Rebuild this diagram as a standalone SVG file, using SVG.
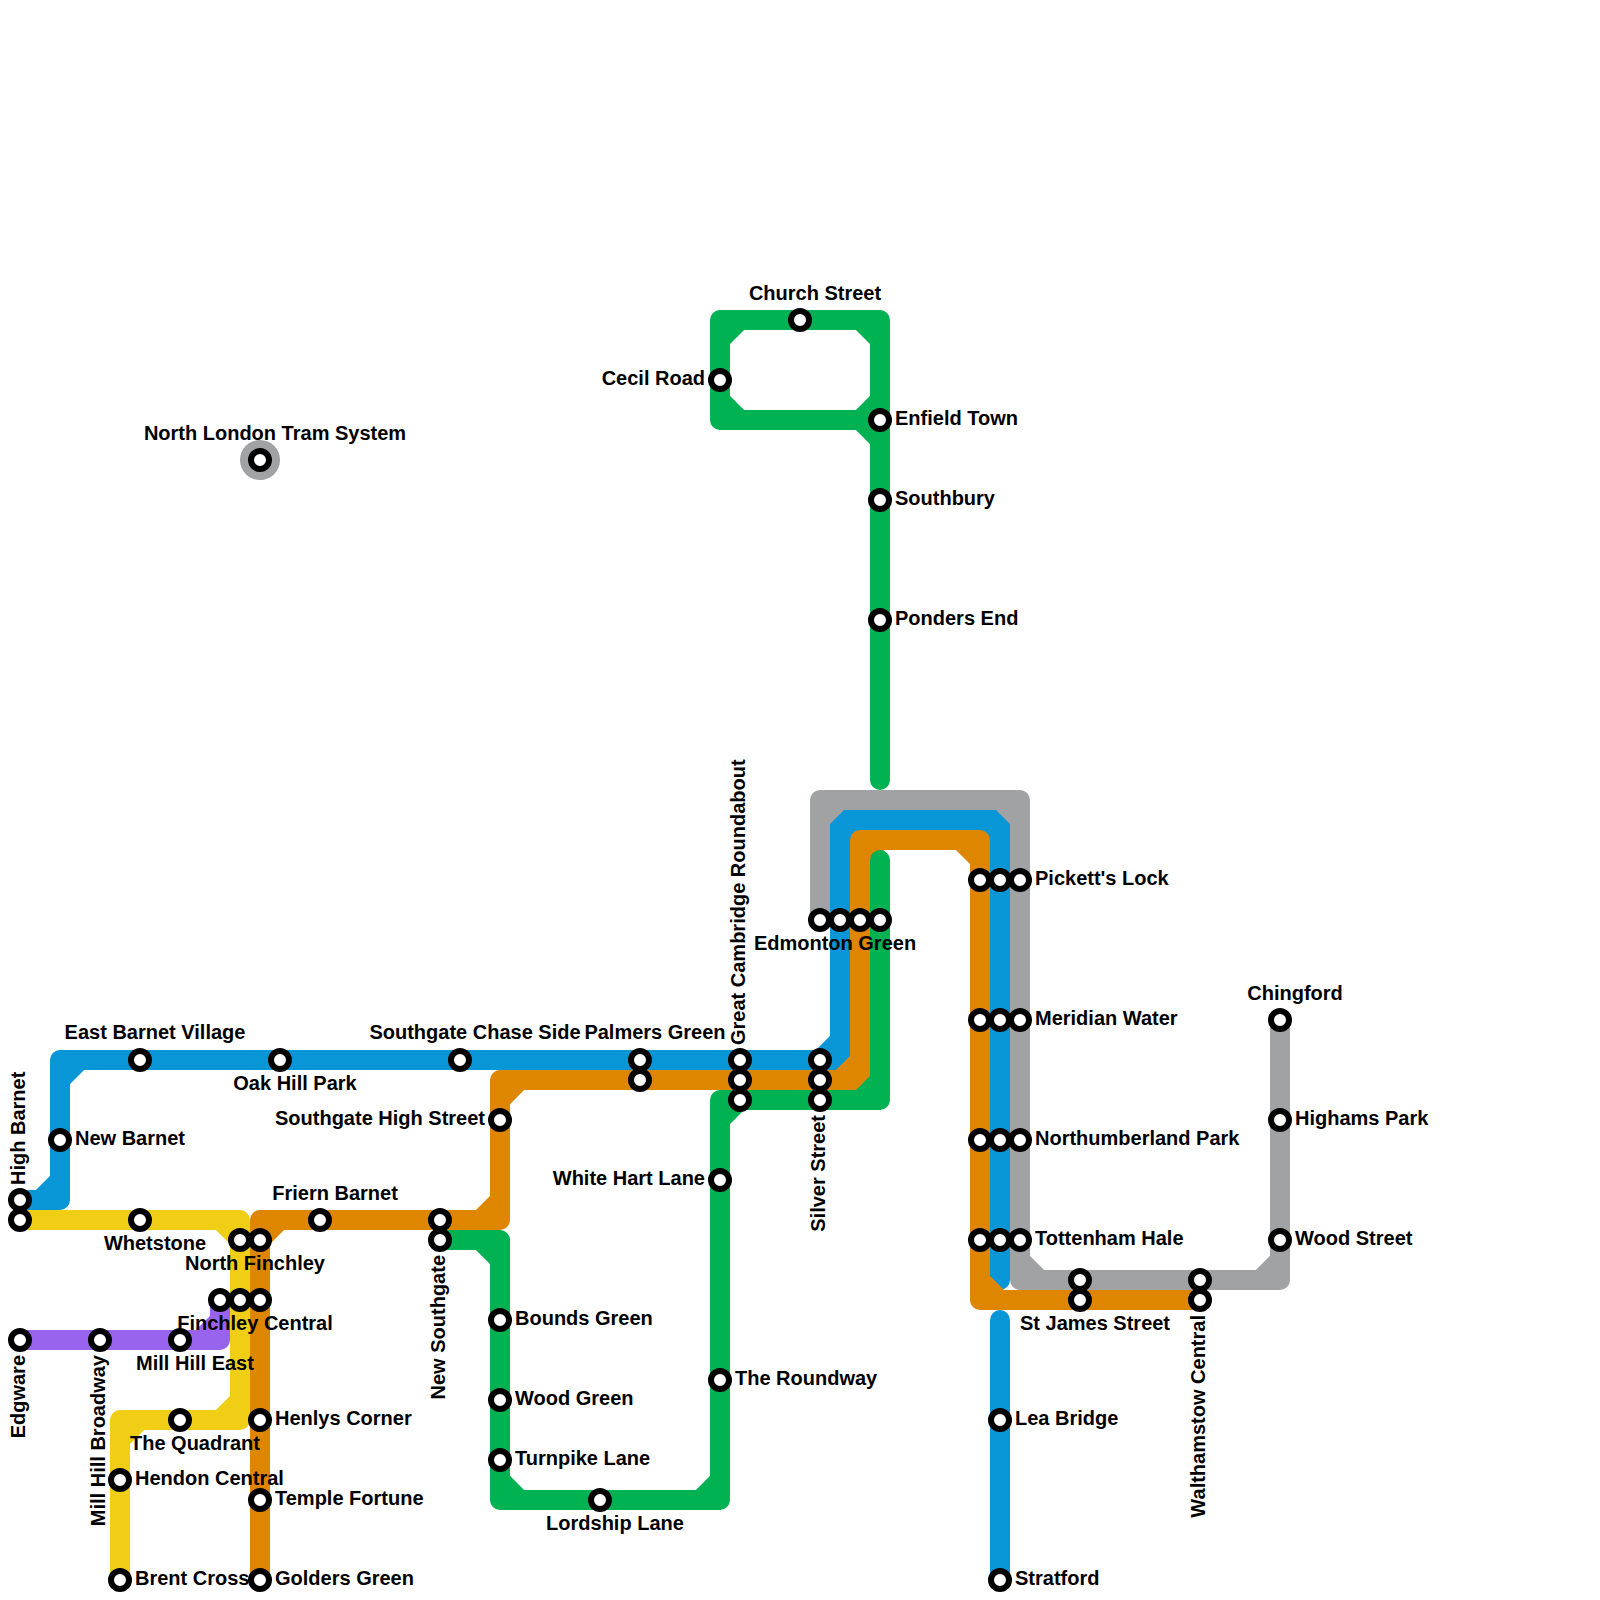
<svg xmlns="http://www.w3.org/2000/svg" width="1600" height="1600" viewBox="0 0 1600 1600">
<style>
.line{fill:none;stroke-width:20;stroke-linecap:round;stroke-linejoin:round}
.blue{stroke:#0896d7}.grey{stroke:#a1a2a3}.orange{stroke:#df8600}.green{stroke:#00b251}.yellow{stroke:#f0ce15}.purple{stroke:#9964ed}
.st{fill:#fff;stroke:#000;stroke-width:6}
text{font-family:"Liberation Sans",Arial,sans-serif;font-weight:700;font-size:20px;fill:#000}
.e{text-anchor:end}.m{text-anchor:middle}
</style>
<rect width="1600" height="1600" fill="#fff"/>
<g id="connectors">
<path id="line-blue-a" class="line blue" d="M20,1200H60V1060H840V820H1000V1280M40,1200L60,1180M60,1080L80,1060M820,1060L840,1040M840,840L860,820M980,820L1000,840"/>
<path id="line-blue-b" class="line blue" d="M1000,1320V1580"/>
<path id="line-grey" class="line grey" d="M820,920V800H1020V1280H1280V1020M820,820L840,800M1000,800L1020,820M1020,1260L1040,1280M1260,1280L1280,1260"/>
<path id="line-purple" class="line purple" d="M20,1340H220V1300M200,1340L220,1320"/>
<path id="line-yellow" class="line yellow" d="M20,1220H240V1420H120V1580M220,1220L240,1240M220,1420L240,1400M120,1440L140,1420"/>
<path id="line-orange" class="line orange" d="M260,1580V1220H500V1080H860V840H980V1300H1200M260,1240L280,1220M480,1220L500,1200M500,1100L520,1080M840,1080L860,1060M860,860L880,840M960,840L980,860M980,1280L1000,1300"/>
<path id="line-green-a" class="line green" d="M880,780V320H720V420H880M720,340L740,320M860,320L880,340M720,400L740,420M860,420L880,400M860,420L880,440"/>
<path id="line-green-b" class="line green" d="M440,1240H500V1500H720V1100H880V860M480,1240L500,1260M500,1480L520,1500M700,1500L720,1480M720,1120L740,1100M860,1100L880,1080"/>
</g>
<g id="nodes">
<g id="tram"><circle cx="260" cy="460" r="20" fill="#a1a2a3"/><circle class="st" cx="260" cy="460" r="9"/><text class="m" x="275" y="440">North London Tram System</text></g>
<g id="church-street"><circle class="st" cx="800" cy="320" r="9"/><text class="m" x="815" y="300">Church Street</text></g>
<g id="cecil-road"><circle class="st" cx="720" cy="380" r="9"/><text class="e" x="705" y="385">Cecil Road</text></g>
<g id="enfield-town"><circle class="st" cx="880" cy="420" r="9"/><text x="895" y="425">Enfield Town</text></g>
<g id="southbury"><circle class="st" cx="880" cy="500" r="9"/><text x="895" y="505">Southbury</text></g>
<g id="ponders-end"><circle class="st" cx="880" cy="620" r="9"/><text x="895" y="625">Ponders End</text></g>
<g id="edmonton-green"><circle class="st" cx="820" cy="920" r="9"/><circle class="st" cx="840" cy="920" r="9"/><circle class="st" cx="860" cy="920" r="9"/><circle class="st" cx="880" cy="920" r="9"/><text class="m" x="835" y="950">Edmonton Green</text></g>
<g id="picketts-lock"><circle class="st" cx="980" cy="880" r="9"/><circle class="st" cx="1000" cy="880" r="9"/><circle class="st" cx="1020" cy="880" r="9"/><text x="1035" y="885">Pickett's Lock</text></g>
<g id="meridian-water"><circle class="st" cx="980" cy="1020" r="9"/><circle class="st" cx="1000" cy="1020" r="9"/><circle class="st" cx="1020" cy="1020" r="9"/><text x="1035" y="1025">Meridian Water</text></g>
<g id="northumberland-park"><circle class="st" cx="980" cy="1140" r="9"/><circle class="st" cx="1000" cy="1140" r="9"/><circle class="st" cx="1020" cy="1140" r="9"/><text x="1035" y="1145">Northumberland Park</text></g>
<g id="tottenham-hale"><circle class="st" cx="980" cy="1240" r="9"/><circle class="st" cx="1000" cy="1240" r="9"/><circle class="st" cx="1020" cy="1240" r="9"/><text x="1035" y="1245">Tottenham Hale</text></g>
<g id="st-james-street"><circle class="st" cx="1080" cy="1280" r="9"/><circle class="st" cx="1080" cy="1300" r="9"/><text class="m" x="1095" y="1330">St James Street</text></g>
<g id="walthamstow-central"><circle class="st" cx="1200" cy="1280" r="9"/><circle class="st" cx="1200" cy="1300" r="9"/><text class="e" transform="rotate(-90 1205 1315)" x="1205" y="1315">Walthamstow Central</text></g>
<g id="chingford"><circle class="st" cx="1280" cy="1020" r="9"/><text class="m" x="1295" y="1000">Chingford</text></g>
<g id="highams-park"><circle class="st" cx="1280" cy="1120" r="9"/><text x="1295" y="1125">Highams Park</text></g>
<g id="wood-street"><circle class="st" cx="1280" cy="1240" r="9"/><text x="1295" y="1245">Wood Street</text></g>
<g id="lea-bridge"><circle class="st" cx="1000" cy="1420" r="9"/><text x="1015" y="1425">Lea Bridge</text></g>
<g id="stratford"><circle class="st" cx="1000" cy="1580" r="9"/><text x="1015" y="1585">Stratford</text></g>
<g id="high-barnet"><circle class="st" cx="20" cy="1200" r="9"/><circle class="st" cx="20" cy="1220" r="9"/><text transform="rotate(-90 25 1185)" x="25" y="1185">High Barnet</text></g>
<g id="new-barnet"><circle class="st" cx="60" cy="1140" r="9"/><text x="75" y="1145">New Barnet</text></g>
<g id="east-barnet-village"><circle class="st" cx="140" cy="1060" r="9"/><text class="m" x="155" y="1039">East Barnet Village</text></g>
<g id="oak-hill-park"><circle class="st" cx="280" cy="1060" r="9"/><text class="m" x="295" y="1090">Oak Hill Park</text></g>
<g id="southgate-chase-side"><circle class="st" cx="460" cy="1060" r="9"/><text class="m" x="475" y="1039">Southgate Chase Side</text></g>
<g id="palmers-green"><circle class="st" cx="640" cy="1060" r="9"/><circle class="st" cx="640" cy="1080" r="9"/><text class="m" x="655" y="1039">Palmers Green</text></g>
<g id="great-cambridge-roundabout"><circle class="st" cx="740" cy="1060" r="9"/><circle class="st" cx="740" cy="1080" r="9"/><circle class="st" cx="740" cy="1100" r="9"/><text transform="rotate(-90 745 1045)" x="745" y="1045">Great Cambridge Roundabout</text></g>
<g id="silver-street"><circle class="st" cx="820" cy="1060" r="9"/><circle class="st" cx="820" cy="1080" r="9"/><circle class="st" cx="820" cy="1100" r="9"/><text class="e" transform="rotate(-90 825 1115)" x="825" y="1115">Silver Street</text></g>
<g id="southgate-high-street"><circle class="st" cx="500" cy="1120" r="9"/><text class="e" x="485" y="1125">Southgate High Street</text></g>
<g id="white-hart-lane"><circle class="st" cx="720" cy="1180" r="9"/><text class="e" x="705" y="1185">White Hart Lane</text></g>
<g id="the-roundway"><circle class="st" cx="720" cy="1380" r="9"/><text x="735" y="1385">The Roundway</text></g>
<g id="friern-barnet"><circle class="st" cx="320" cy="1220" r="9"/><text class="m" x="335" y="1200">Friern Barnet</text></g>
<g id="new-southgate"><circle class="st" cx="440" cy="1220" r="9"/><circle class="st" cx="440" cy="1240" r="9"/><text class="e" transform="rotate(-90 445 1255)" x="445" y="1255">New Southgate</text></g>
<g id="bounds-green"><circle class="st" cx="500" cy="1320" r="9"/><text x="515" y="1325">Bounds Green</text></g>
<g id="wood-green"><circle class="st" cx="500" cy="1400" r="9"/><text x="515" y="1405">Wood Green</text></g>
<g id="turnpike-lane"><circle class="st" cx="500" cy="1460" r="9"/><text x="515" y="1465">Turnpike Lane</text></g>
<g id="lordship-lane"><circle class="st" cx="600" cy="1500" r="9"/><text class="m" x="615" y="1530">Lordship Lane</text></g>
<g id="whetstone"><circle class="st" cx="140" cy="1220" r="9"/><text class="m" x="155" y="1250">Whetstone</text></g>
<g id="north-finchley"><circle class="st" cx="240" cy="1240" r="9"/><circle class="st" cx="260" cy="1240" r="9"/><text class="m" x="255" y="1270">North Finchley</text></g>
<g id="finchley-central"><circle class="st" cx="220" cy="1300" r="9"/><circle class="st" cx="240" cy="1300" r="9"/><circle class="st" cx="260" cy="1300" r="9"/><text class="m" x="255" y="1330">Finchley Central</text></g>
<g id="edgware"><circle class="st" cx="20" cy="1340" r="9"/><text class="e" transform="rotate(-90 25 1355)" x="25" y="1355">Edgware</text></g>
<g id="mill-hill-broadway"><circle class="st" cx="100" cy="1340" r="9"/><text class="e" transform="rotate(-90 105 1355)" x="105" y="1355">Mill Hill Broadway</text></g>
<g id="mill-hill-east"><circle class="st" cx="180" cy="1340" r="9"/><text class="m" x="195" y="1370">Mill Hill East</text></g>
<g id="the-quadrant"><circle class="st" cx="180" cy="1420" r="9"/><text class="m" x="195" y="1450">The Quadrant</text></g>
<g id="henlys-corner"><circle class="st" cx="260" cy="1420" r="9"/><text x="275" y="1425">Henlys Corner</text></g>
<g id="hendon-central"><circle class="st" cx="120" cy="1480" r="9"/><text x="135" y="1485">Hendon Central</text></g>
<g id="temple-fortune"><circle class="st" cx="260" cy="1500" r="9"/><text x="275" y="1505">Temple Fortune</text></g>
<g id="brent-cross"><circle class="st" cx="120" cy="1580" r="9"/><text x="135" y="1585">Brent Cross</text></g>
<g id="golders-green"><circle class="st" cx="260" cy="1580" r="9"/><text x="275" y="1585">Golders Green</text></g>
</g>
</svg>
